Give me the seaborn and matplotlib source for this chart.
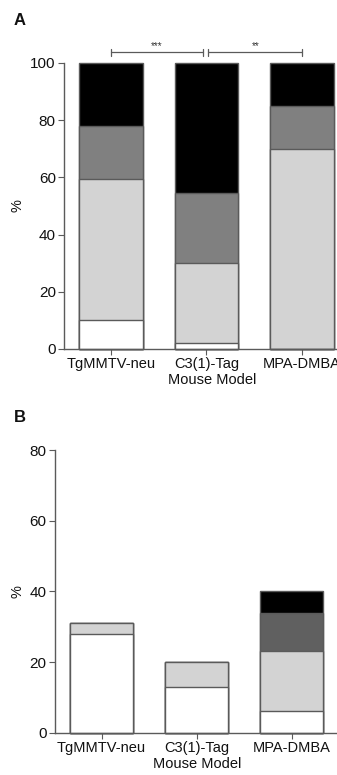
import numpy as np
import pandas as pd
import matplotlib
matplotlib.use("Agg")
import matplotlib.pyplot as plt
import seaborn as sns

models = ["TgMMTV-neu", "C3(1)-Tag", "MPA-DMBA"]

# panel A: stacked percentages (bottom -> top)
a_white = [10, 2, 0]
a_light = [49.5, 28, 70]
a_grey = [18.5, 24.5, 15]
a_black = [22, 45.5, 15]

# panel B
b_white = [28, 13, 6]
b_light = [3, 7, 17]
b_dark = [0, 0, 11]
b_black = [0, 0, 6]

sig_pairs = [(0, 0.96, "***"), (1.02, 2.0, "**")]

sns.set_theme(style="ticks")
plt.rcParams["font.family"] = ["Liberation Sans", "DejaVu Sans"]
plt.rcParams["text.color"] = "#111111"
plt.rcParams["axes.labelcolor"] = "#111111"
plt.rcParams["xtick.labelcolor"] = "#111111"
plt.rcParams["ytick.labelcolor"] = "#111111"

EDGE = "#5a5a5a"
W, H = 337, 775


def stacked(ax, layers, colors):
    # draw cumulative totals from the top layer down so each overlays the next
    cum = np.cumsum(np.array(layers, dtype=float), axis=0)
    for i in range(len(layers) - 1, -1, -1):
        df = pd.DataFrame({"model": models, "val": cum[i]})
        sns.barplot(data=df, x="model", y="val", order=models, color=colors[i],
                    width=0.66, edgecolor=EDGE, linewidth=1.0, saturation=1,
                    errorbar=None, ax=ax)
    for p in ax.patches:
        p.set_clip_on(False)


def style(ax, ylim, yticks, xlim, left_px, width_px):
    ax.set_ylim(*ylim)
    ax.set_yticks(yticks)
    ax.set_xlim(*xlim)
    ax.set_xlabel("Mouse Model", fontsize=10.5, labelpad=1.5)
    ax.set_ylabel("%", fontsize=10.5)
    ax.yaxis.set_label_coords((25 - left_px) / width_px, 0.5)
    ax.tick_params(axis="x", labelsize=10.5, length=4, width=0.8,
                   color=EDGE, pad=2)
    ax.tick_params(axis="y", labelsize=11, length=4, width=0.8,
                   color=EDGE, pad=2)
    for s in ["top", "right"]:
        ax.spines[s].set_visible(False)
    for s in ["left", "bottom"]:
        ax.spines[s].set_color(EDGE)
        ax.spines[s].set_linewidth(1.0)


fig = plt.figure(figsize=(3.37, 7.75), dpi=100)

# panel A axes (right side runs past the figure edge, as in the original)
a_left, a_right, a_y0, a_y1 = 64.2, 359.3, 349, 63
axA = fig.add_axes([a_left / W, (H - a_y0) / H, (a_right - a_left) / W, (a_y0 - a_y1) / H])
stacked(axA, [a_white, a_light, a_grey, a_black],
        ["white", "#d3d3d3", "#808080", "black"])
style(axA, (0, 100), [0, 20, 40, 60, 80, 100], (-0.49, 2.6), a_left, a_right - a_left)

for x0, x1, lab in sig_pairs:
    y = 103.7
    axA.plot([x0, x1], [y, y], color=EDGE, lw=0.9, clip_on=False)
    for xx in (x0, x1):
        axA.plot([xx, xx], [y - 1.3, y + 1.3], color=EDGE, lw=0.9, clip_on=False)
    axA.text((x0 + x1) / 2, y + 0.5, lab, ha="center", va="bottom",
             fontsize=7, color="#333333")

# panel B axes
b_left, b_right, b_y0, b_y1 = 55, 339, 732.7, 450
axB = fig.add_axes([b_left / W, (H - b_y0) / H, (b_right - b_left) / W, (b_y0 - b_y1) / H])
stacked(axB, [b_white, b_light, b_dark, b_black],
        ["white", "#d3d3d3", "#606060", "black"])
style(axB, (0, 80), [0, 20, 40, 60, 80], (-0.49, 2.5), b_left, b_right - b_left)

fig.text(13.5 / W, 1 - 25 / H, "A", fontsize=12, fontweight="bold", va="baseline")
fig.text(13.5 / W, 1 - 422 / H, "B", fontsize=12, fontweight="bold", va="baseline")

fig.savefig("out.png", dpi=100)
